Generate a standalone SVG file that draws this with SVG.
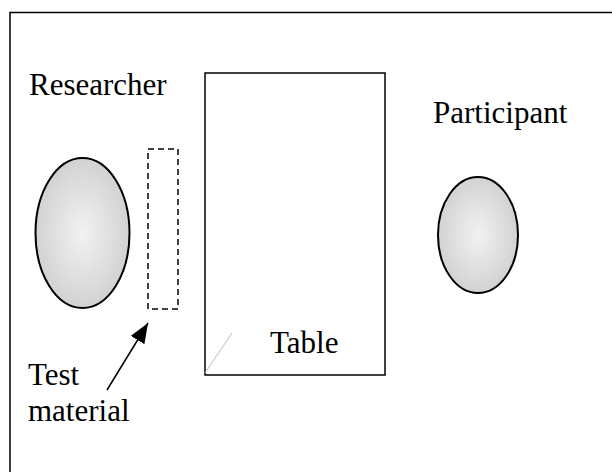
<svg xmlns="http://www.w3.org/2000/svg" width="612" height="472" viewBox="0 0 612 472">
<style>
text{font-family:"Liberation Serif","Times New Roman",serif;font-size:31px;fill:#000}
.body{stroke:#000;stroke-width:2;fill:url(#g)}
</style>
<defs>
<radialGradient id="g" cx="0.5" cy="0.5" r="0.5">
<stop offset="0" stop-color="#f2f2f2"/>
<stop offset="1" stop-color="#d2d2d2"/>
</radialGradient>
<marker id="ah" markerWidth="20" markerHeight="16" refX="20" refY="8" orient="auto" markerUnits="userSpaceOnUse" viewBox="0 0 20 16">
<path d="M0,0 L20,8 L0,16 z" fill="#000"/>
</marker>
</defs>
<rect x="10" y="12.5" width="620" height="480" fill="none" stroke="#000" stroke-width="1.5"/>
<g id="table">
<rect x="205" y="73" width="180" height="302" fill="#fff" stroke="#000" stroke-width="1.5"/>
<line x1="205" y1="373" x2="232" y2="333" stroke="#bbb" stroke-width="1"/>
<text x="270" y="353">Table</text>
</g>
<g id="researcher">
<ellipse class="body" cx="82.5" cy="233" rx="47" ry="75"/>
<text x="29" y="95">Researcher</text>
</g>
<g id="participant">
<ellipse class="body" cx="478" cy="235" rx="40" ry="58"/>
<text x="433" y="123">Participant</text>
</g>
<g id="test-material">
<rect x="148" y="149" width="30" height="160" fill="none" stroke="#000" stroke-width="1.5" stroke-dasharray="6,4"/>
<text x="28" y="385">Test</text>
<text x="28" y="421">material</text>
</g>
<g id="connectors">
<line x1="107" y1="390" x2="148" y2="323" stroke="#000" stroke-width="1.5" marker-end="url(#ah)"/>
</g>
</svg>
